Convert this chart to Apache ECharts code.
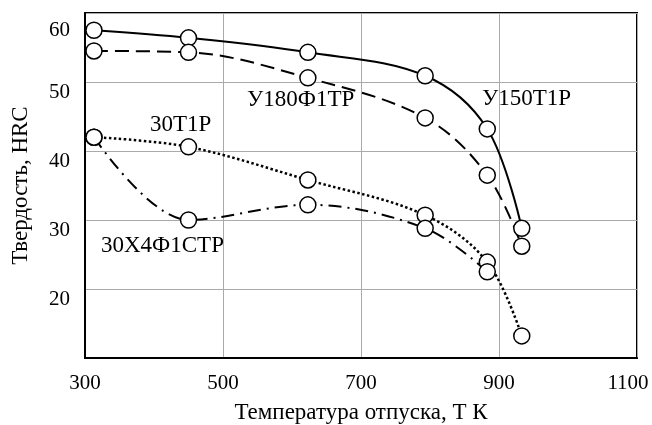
<!DOCTYPE html>
<html><head><meta charset="utf-8">
<script src="https://cdn.jsdelivr.net/npm/echarts@6/dist/echarts.min.js"></script>
<style>html,body{margin:0;padding:0;background:#fff;overflow:hidden}#c{width:652px;height:425px}</style>
</head><body><div id="c"></div>
<script>
const temps = [313, 450, 623, 793, 883, 933];
const u150t1r = [57.5, 56.4, 54.3, 50.9, 43.2, 28.8];
const u180f1tr = [54.5, 54.3, 50.6, 44.8, 36.5, 26.2];
const s30t1r = [42.0, 40.6, 35.8, 30.7, 23.9, 13.2];
const s30x4f1str = [42.0, 30.0, 32.2, 28.8, 22.5];
const xTicks = [300, 500, 700, 900, 1100];
const yTicks = [20, 30, 40, 50, 60];
const seriesNames = ['У150Т1Р', 'У180Ф1ТР', '30Т1Р', '30Х4Ф1СТР'];

const FONT = 'Liberation Serif';
const TICK = 21, TITLE = 23;
const pair = (vals) => vals.map((v, i) => [temps[i], v]);
const mk = (name, vals, type, width) => ({
  name, type: 'line', data: pair(vals), smooth: 0.35,
  symbol: 'circle', symbolSize: 16,
  itemStyle: { color: '#fff', borderColor: '#000', borderWidth: 1.5 },
  lineStyle: { color: '#000', width, type },
  z: 3
});
const txt = (text, left, top) => ({ type: 'text', left, top,
  style: { text, fontFamily: FONT, fontSize: TITLE, fill: '#000' } });

const chart = echarts.init(document.getElementById('c'));
chart.setOption({
  animation: false,
  backgroundColor: '#fff',
  grid: { left: 85, right: 15, top: 13, bottom: 67, show: true, borderColor: '#000', borderWidth: 2,
    containLabel: false, outerBoundsMode: 'none' },
  xAxis: {
    type: 'value', min: 300, max: 1100, interval: 200,
    name: 'Температура отпуска, Т К', nameLocation: 'middle', nameGap: 43,
    nameTextStyle: { fontFamily: FONT, fontSize: TITLE, color: '#000' },
    axisLine: { lineStyle: { color: '#000', width: 2 } },
    axisTick: { show: false },
    axisLabel: { fontFamily: FONT, fontSize: TICK, color: '#000', margin: 15,
      formatter: v => !xTicks.includes(v) ? '' : (v === 1100 ? '{r|' + v + '}' : String(v)),
      rich: { r: { fontFamily: FONT, fontSize: TICK, color: '#000', padding: [0, 18, 0, 0] } } },
    splitLine: { lineStyle: { color: '#aaa', width: 1 } }
  },
  yAxis: {
    type: 'value', min: 10, max: 60, interval: 10,
    name: 'Твердость, HRC', nameLocation: 'middle', nameGap: 53,
    nameTextStyle: { fontFamily: FONT, fontSize: TITLE, color: '#000' },
    axisLine: { lineStyle: { color: '#000', width: 2 } },
    axisTick: { show: false },
    axisLabel: { fontFamily: FONT, fontSize: TICK, color: '#000', margin: 15, verticalAlign: 'top',
      formatter: v => !yTicks.includes(v) ? '' : (v === 60 ? '{t|' + v + '}' : String(v)),
      rich: { t: { fontFamily: FONT, fontSize: TICK, color: '#000', padding: [7, 0, 0, 0] } } },
    splitLine: { lineStyle: { color: '#aaa', width: 1 } }
  },
  graphic: [
    txt(seriesNames[1], 247, 88),
    txt(seriesNames[0], 482, 87),
    txt(seriesNames[2], 150, 113),
    txt(seriesNames[3], 101, 234)
  ],
  series: [
    mk(seriesNames[0], u150t1r, 'solid', 2),
    mk(seriesNames[1], u180f1tr, [14, 7], 2),
    mk(seriesNames[2], s30t1r, [2.5, 2.5], 2.5),
    mk(seriesNames[3], s30x4f1str, [13, 6, 2, 6], 2)
  ]
});
</script></body></html>
